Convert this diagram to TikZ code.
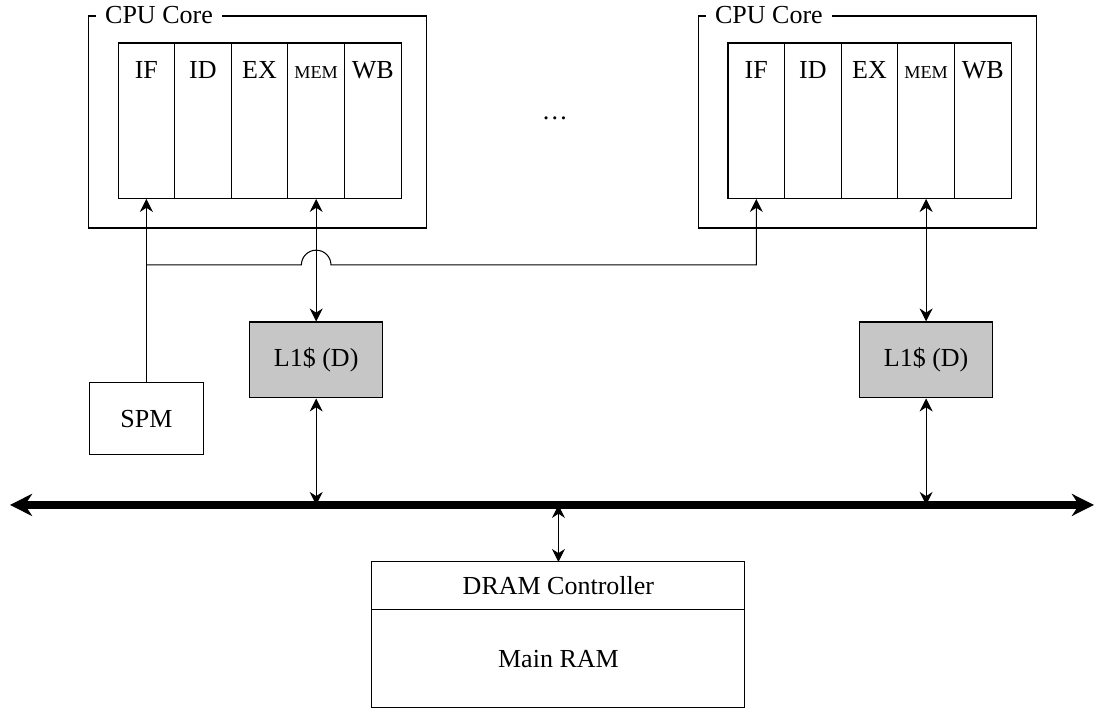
\documentclass[tikz,border=0pt]{standalone}
\usepackage{fontspec}
\setmainfont{Liberation Serif}
\usetikzlibrary{positioning,arrows.meta}

\tikzset{
  corebox/.style={draw, minimum width=4.57cm, minimum height=2.865cm, inner sep=0pt},
  stage/.style={draw, minimum width=0.765cm, minimum height=2.108cm, inner sep=0pt, outer sep=0pt,
    text height=0.3cm, text depth=1.45cm},
  cachebox/.style={draw, fill=gray!45, minimum width=1.797cm, minimum height=1.027cm},
  membox/.style={draw, minimum width=5.04cm, inner sep=0pt, outer sep=0pt},
}

\begin{document}
\begin{tikzpicture}[>={Stealth[length=5pt,width=5pt]}]
  \useasboundingbox (0,0) rectangle (14.92,-9.608);

  % rows used by the wires
  \coordinate (wirerow) at (0,-3.581);
  \coordinate (cacherow) at (0,-4.865);
  \coordinate (spmrow) at (0,-5.662);
  \coordinate (busL) at (0.135,-6.824);
  \coordinate (busR) at (14.784,-6.824);

  % first core
  \node[corebox] (coreA) at (3.48,-1.649) {};
  \node[fill=white, anchor=west, inner sep=3.6pt] (coreAlbl) at ([xshift=0.1cm]coreA.north west) {CPU Core};
  \node[stage] (ifA) at (1.978,-1.635) {IF};
  \node[stage, right=0pt of ifA] (idA) {ID};
  \node[stage, right=0pt of idA] (exA) {EX};
  \node[stage, right=0pt of exA] (memA) {\scriptsize MEM};
  \node[stage, right=0pt of memA] (wbA) {WB};

  % last core
  \node[corebox] (coreB) at (11.723,-1.649) {};
  \node[fill=white, anchor=west, inner sep=3.6pt] (coreBlbl) at ([xshift=0.1cm]coreB.north west) {CPU Core};
  \node[stage] (ifB) at (10.221,-1.635) {IF};
  \node[stage, right=0pt of ifB] (idB) {ID};
  \node[stage, right=0pt of idB] (exB) {EX};
  \node[stage, right=0pt of exB] (memB) {\scriptsize MEM};
  \node[stage, right=0pt of memB] (wbB) {WB};

  \node (dots) at (7.5,-1.595) {\dots};

  % caches and scratchpad
  \node[cachebox] (lA) at (memA.south |- cacherow) {L1\$ (D)};
  \node[cachebox] (lB) at (memB.south |- cacherow) {L1\$ (D)};
  \node[draw, minimum width=1.541cm, minimum height=0.973cm] (spm) at (ifA.south |- spmrow) {SPM};

  % memory
  \node[membox, minimum height=0.649cm] (ctrl) at (7.547,-7.919) {DRAM Controller};
  \node[membox, minimum height=1.324cm, below=0pt of ctrl] (ram) {Main RAM};

  % wires
  \draw[->] (spm.north) -- (ifA.south);
  \draw[->] (ifA.south |- wirerow) -- ([xshift=-0.2cm]memA.south |- wirerow)
    arc[start angle=180, end angle=0, radius=0.2cm] -- (ifB.south |- wirerow) -- (ifB.south);
  \draw[<->] (memA.south) -- (lA.north);
  \draw[<->] (memB.south) -- (lB.north);
  \draw[<->] (lA.south) -- (lA.south |- busL);
  \draw[<->] (lB.south) -- (lB.south |- busL);
  \draw[<->] (ctrl.north) -- (ctrl.north |- busL);

  % bus
  \draw[line width=2.8pt, {Stealth[length=8.5pt,width=8.5pt]}-{Stealth[length=8.5pt,width=8.5pt]}] (busL) -- (busR);
\end{tikzpicture}
\end{document}
